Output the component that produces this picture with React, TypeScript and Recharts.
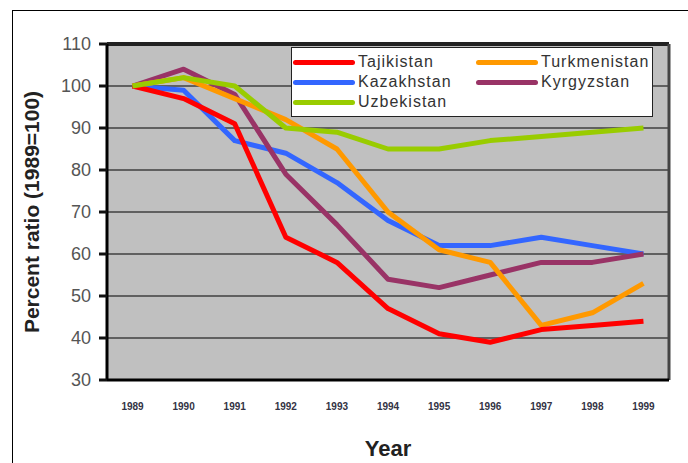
import { CartesianGrid, Legend, Line, LineChart, ReferenceLine, XAxis, YAxis } from 'recharts';

const years = [1989, 1990, 1991, 1992, 1993, 1994, 1995, 1996, 1997, 1998, 1999];
const tajikistan = [100, 97, 91, 64, 58, 47, 41, 39, 42, 43, 44];
const turkmenistan = [100, 102, 97, 92, 85, 70, 61, 58, 43, 46, 53];
const kazakhstan = [100, 99, 87, 84, 77, 68, 62, 62, 64, 62, 60];
const kyrgyzstan = [100, 104, 98, 79, 67, 54, 52, 55, 58, 58, 60];
const uzbekistan = [100, 102, 100, 90, 89, 85, 85, 87, 88, 89, 90];
const yTicks = [30, 40, 50, 60, 70, 80, 90, 100, 110];
const legendOrder = ['Tajikistan', 'Turkmenistan', 'Kazakhstan', 'Kyrgyzstan', 'Uzbekistan'];

const data = years.map((year, i) => ({
  year,
  Tajikistan: tajikistan[i],
  Turkmenistan: turkmenistan[i],
  Kazakhstan: kazakhstan[i],
  Kyrgyzstan: kyrgyzstan[i],
  Uzbekistan: uzbekistan[i],
}));

// tick marks sit between the years, like the old spreadsheet charts
const bandEdges = [...years.map((y) => y - 0.5), years[years.length - 1] + 0.5];

const series = [
  { key: 'Kazakhstan', color: '#3366ff' },
  { key: 'Kyrgyzstan', color: '#993366' },
  { key: 'Turkmenistan', color: '#ff9900' },
  { key: 'Tajikistan', color: '#ff0000' },
  { key: 'Uzbekistan', color: '#99cc00' },
];

const BandMark = ({ x, y }: any) => (
  <line x1={x} x2={x} y1={y} y2={y + 8} stroke="#111" strokeWidth={3} />
);

const ValueTick = ({ x, y, payload }: any) => (
  <g>
    <line x1={x - 8} x2={x} y1={y} y2={y} stroke="#111" strokeWidth={3} />
    <text x={x - 16} y={y} dy="0.35em" textAnchor="end" fontSize={18} fill="#555">
      {payload.value}
    </text>
  </g>
);

const renderLegend = (props: any) => {
  const payload = [...(props.payload || [])].sort(
    (a: any, b: any) => legendOrder.indexOf(a.value) - legendOrder.indexOf(b.value),
  );
  return (
    <div
      style={{
        width: 360,
        height: 64,
        background: '#fff',
        border: '1.5px solid #222',
        boxSizing: 'content-box',
        display: 'grid',
        gridTemplateColumns: '183px 177px',
        gridAutoRows: 20,
        paddingTop: 4,
      }}
    >
      {payload.map((entry: any) => (
        <div key={entry.value} style={{ display: 'flex', alignItems: 'center' }}>
          <div style={{ width: 62, height: 5, borderRadius: 3, background: entry.color, marginLeft: 1 }} />
          <span
            style={{
              marginLeft: 3,
              fontFamily: '"Liberation Sans", Arial, sans-serif',
              fontSize: 16,
              letterSpacing: 1,
              color: '#333',
              lineHeight: '20px',
            }}
          >
            {entry.value}
          </span>
        </div>
      ))}
    </div>
  );
};

export default function App() {
  return (
    <div style={{ position: 'absolute', left: 0, top: 0, width: 688, height: 463, background: '#fff', overflow: 'hidden' }}>
      <div style={{ position: 'absolute', left: 12, top: 10, width: 700, height: 500, borderTop: '1.5px solid #000', borderLeft: '1.5px solid #000' }} />
      <LineChart
        width={688}
        height={463}
        data={data}
        margin={{ top: 44, right: 19, left: 0, bottom: 22 }}
        style={{ fontFamily: '"Liberation Sans", Arial, sans-serif' }}
      >
        <CartesianGrid xAxisId="years" vertical={false} stroke="#000" strokeWidth={1.2} fill="#c0c0c0" fillOpacity={1} />
        <XAxis
          xAxisId="marks"
          type="number"
          domain={[1988.5, 1999.5]}
          ticks={bandEdges}
          interval={0}
          height={1}
          tick={<BandMark />}
          tickLine={false}
          tickSize={0}
          tickMargin={0}
          axisLine={{ stroke: '#000', strokeWidth: 3 }}
        />
        <XAxis
          xAxisId="years"
          dataKey="year"
          type="number"
          domain={[1988.5, 1999.5]}
          ticks={years}
          interval={0}
          height={60}
          tickLine={false}
          axisLine={false}
          tickSize={6}
          tickMargin={16}
          tick={{ fontSize: 10, fontWeight: 'bold', fill: '#334' }}
          label={{ value: 'Year', position: 'bottom', offset: -1, style: { fontSize: 22, fontWeight: 'bold', fill: '#222' } }}
        />
        <YAxis
          type="number"
          domain={[30, 110]}
          ticks={yTicks}
          interval={0}
          width={107}
          tickSize={0}
          tickMargin={0}
          tickLine={false}
          axisLine={{ stroke: '#000', strokeWidth: 3 }}
          tick={<ValueTick />}
          label={{
            value: 'Percent ratio (1989=100)',
            angle: -90,
            position: 'insideLeft',
            offset: 32,
            style: { textAnchor: 'middle', fontSize: 21, fontWeight: 'bold', fill: '#222' },
          }}
        />
        <ReferenceLine xAxisId="years" y={110} stroke="#222" strokeWidth={4} />
        <ReferenceLine xAxisId="years" x={1999.5} stroke="#444" strokeWidth={3} />
        {series.map((s) => (
          <Line
            key={s.key}
            xAxisId="years"
            type="linear"
            dataKey={s.key}
            name={s.key}
            stroke={s.color}
            strokeWidth={5}
            strokeLinejoin="round"
            dot={false}
            activeDot={false}
            isAnimationActive={false}
          />
        ))}
        <Legend
          layout="horizontal"
          verticalAlign="middle"
          align="center"
          content={renderLegend}
          wrapperStyle={{ position: 'absolute', left: 291, top: 47, width: 363, height: 68 }}
        />
      </LineChart>
    </div>
  );
}
